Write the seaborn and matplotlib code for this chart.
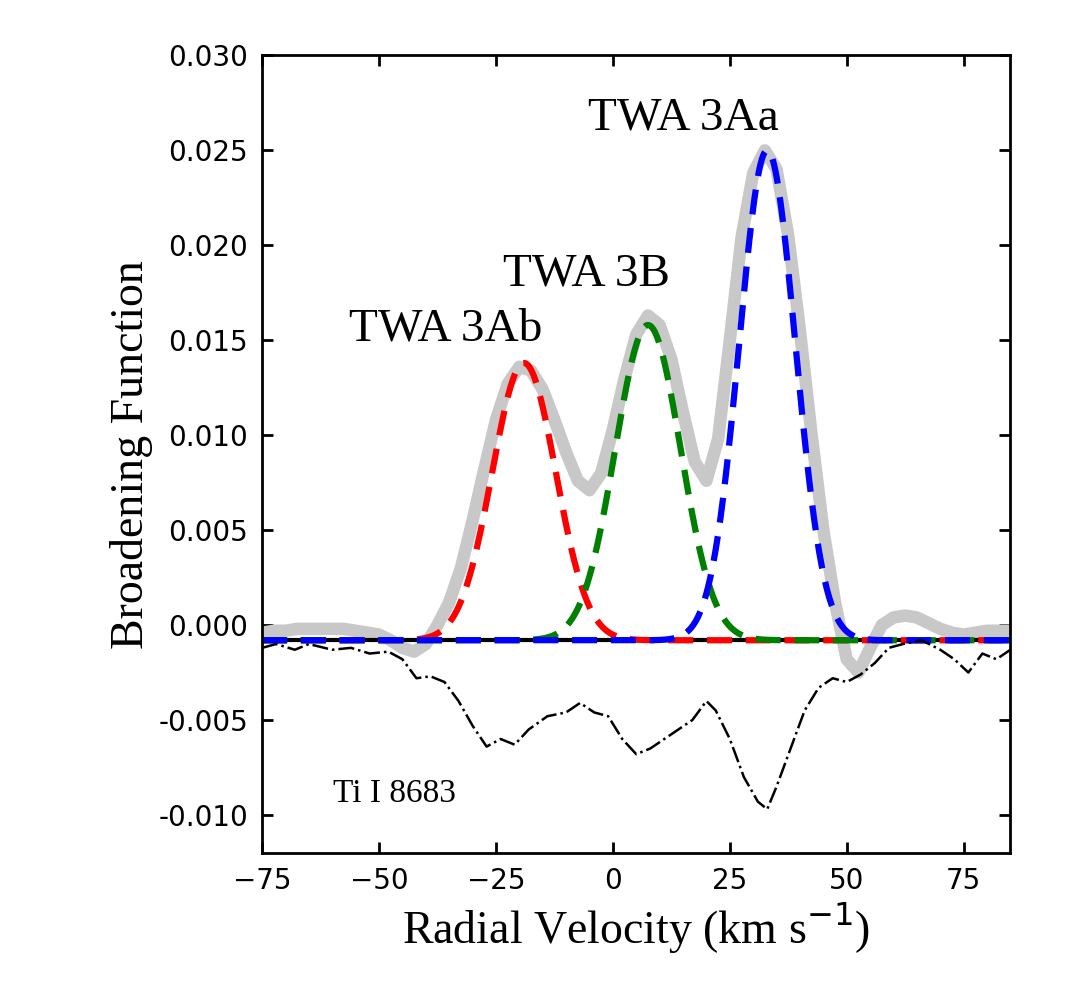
import matplotlib
matplotlib.use("Agg")
import matplotlib.pyplot as plt
import numpy as np
import seaborn as sn

bf_v = np.arange(-75, 85.1, 2.5)
bf_y = [-0.0004, -0.0003, -0.0003, -0.0002, -0.0002, -0.0002, -0.0002, -0.0002,
        -0.0003, -0.0004, -0.0005, -0.0008, -0.0012, -0.0014, -0.0010, 0.0000,
        0.0012, 0.0030, 0.0055, 0.0082, 0.0108, 0.0127, 0.0136, 0.0134, 0.0124,
        0.0108, 0.0091, 0.0076, 0.0071, 0.0080, 0.0103, 0.0130, 0.0153, 0.0163,
        0.0158, 0.0140, 0.0112, 0.0086, 0.0076, 0.0098, 0.0150, 0.0204, 0.0238,
        0.0250, 0.0240, 0.0205, 0.0155, 0.0100, 0.0050, 0.0012, -0.0018, -0.0025,
        -0.0012, 0.0000, 0.0004, 0.0005, 0.0004, 0.0001, -0.0002, -0.0004,
        -0.0005, -0.0004, -0.0003, -0.0003, -0.0003]

# residuals (dash-dot)
res_v = [-75, -72, -68, -65, -60, -56, -52, -48, -45, -42, -39, -36, -33, -30, -27,
         -24, -21, -18, -14, -10, -7, -4, -1, 2, 5, 8, 11, 14, 17, 20, 22, 25, 28,
         31, 33, 35, 38, 41, 44, 47, 50, 53, 56, 59, 62, 66, 70, 73, 76, 79, 82, 85]
res_y = [-0.0012, -0.0010, -0.0013, -0.0010, -0.0013, -0.0012, -0.0015, -0.0014,
         -0.0018, -0.0028, -0.0027, -0.0030, -0.0040, -0.0053, -0.0064, -0.0060,
         -0.0063, -0.0055, -0.0048, -0.0046, -0.0041, -0.0046, -0.0048, -0.0060,
         -0.0068, -0.0065, -0.0060, -0.0055, -0.0050, -0.0040, -0.0045, -0.0060,
         -0.0080, -0.0093, -0.0097, -0.0085, -0.0065, -0.0045, -0.0033, -0.0028,
         -0.0030, -0.0026, -0.0020, -0.0012, -0.0010, -0.0008, -0.0013, -0.0018,
         -0.0025, -0.0015, -0.0018, -0.0013]

# Gaussian fit components: name, colour, amplitude, centre, sigma
baseline = -0.0008
comp_names = ["TWA 3Ab", "TWA 3B", "TWA 3Aa"]
comp_colors = ["red", "green", "blue"]
comp_amp = [0.0146, 0.0166, 0.0258]
comp_mu = [-19.0, 7.5, 33.0]
comp_sig = [6.8, 7.0, 6.0]

sn.set_style("ticks")
plt.rcParams["font.family"] = ["DejaVu Sans"]
plt.rcParams["axes.unicode_minus"] = True
serif = ["Liberation Serif", "DejaVu Serif"]

fig = plt.figure(figsize=(10.83, 10.07), dpi=100)
ax = fig.add_axes([0.242, 0.153, 0.691, 0.792])

sn.lineplot(x=bf_v, y=bf_y, color="#c8c8c8", lw=9, ax=ax)
ax.axhline(baseline, color="black", lw=3)
vv = np.linspace(-75, 85, 600)
for c, a, m, s in zip(comp_colors, comp_amp, comp_mu, comp_sig):
    yy = baseline + a * np.exp(-0.5 * ((vv - m) / s) ** 2)
    sn.lineplot(x=vv, y=yy, color=c, lw=4.5, ax=ax)
    ax.lines[-1].set_linestyle((0, (4, 2.2)))
sn.lineplot(x=res_v, y=res_y, color="black", lw=1.8, ax=ax)
ax.lines[-1].set_linestyle("-.")

ax.text(-56.4, 0.0150, comp_names[0], fontsize=34, family=serif, color="black")
ax.text(-23.4, 0.0179, comp_names[1], fontsize=34, family=serif, color="black")
ax.text(-5.3, 0.0261, comp_names[2], fontsize=34, family=serif, color="black")
ax.text(-59.8, -0.0093, "Ti I 8683", fontsize=24, family=serif, color="black")

ax.set_xlim(-75, 85)
ax.set_ylim(-0.012, 0.030)
ax.set_xticks([-75, -50, -25, 0, 25, 50, 75])
ax.set_yticks(np.arange(-0.010, 0.0301, 0.005))
ax.yaxis.set_major_formatter(matplotlib.ticker.FormatStrFormatter("%.3f"))
ax.tick_params(direction="in", top=True, right=True, length=8, width=2,
               labelsize=20, pad=10, colors="black")
for sp in ax.spines.values():
    sp.set_linewidth(2)
    sp.set_color("black")
ax.set_xlabel("Radial Velocity (km s$^{-1}$)", fontsize=33, family=serif, color="black")
ax.set_ylabel("Broadening Function", fontsize=33, family=serif, color="black")
fig.savefig("out.png", dpi=100)
